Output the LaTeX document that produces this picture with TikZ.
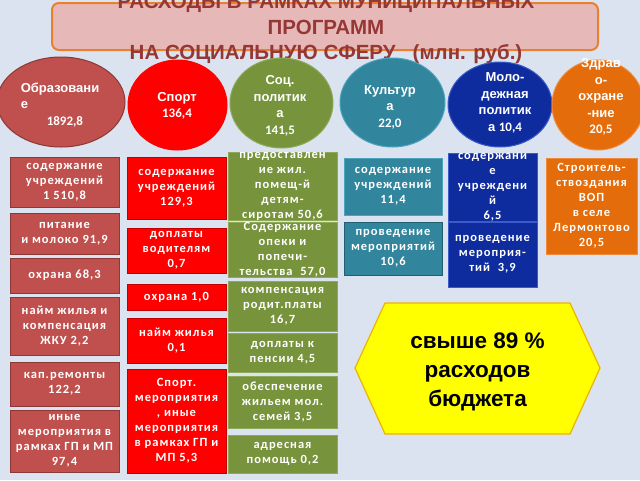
\documentclass[tikz,border=0pt]{standalone}
\usepackage{fontspec}
\setmainfont{Liberation Sans}
\newfontfamily\cfont{Carlito}
\newfontfamily\bxfont[LetterSpace=8]{Carlito}
\usetikzlibrary{shapes.geometric}
\definecolor{bg}{HTML}{DAE3EF}
\definecolor{tfill}{HTML}{E6B9B8}
\definecolor{tbord}{HTML}{E9802E}
\definecolor{ttext}{HTML}{953735}
\definecolor{edu}{HTML}{C0504D}
\definecolor{eduD}{HTML}{8C3836}
\definecolor{spo}{HTML}{FF0000}
\definecolor{spoD}{HTML}{C00000}
\definecolor{soc}{HTML}{77933C}
\definecolor{socD}{HTML}{8EAA58}
\definecolor{kul}{HTML}{31859C}
\definecolor{kulD}{HTML}{4BA3BD}
\definecolor{kulK}{HTML}{215F6F}
\definecolor{mol}{HTML}{0E2C9E}
\definecolor{molD}{HTML}{3A5CC8}
\definecolor{zdr}{HTML}{E46C0A}
\definecolor{zdrD}{HTML}{F08A3A}
\definecolor{hexF}{HTML}{FFFF00}
\definecolor{hexD}{HTML}{EBB400}
\begin{document}
\begin{tikzpicture}[x=1pt,y=-1pt,
  ell/.style={ellipse, inner sep=0pt, line width=1pt},
  elab/.style={text=white, align=center, inner sep=0pt, font=\bfseries\fontsize{13}{16.5}\selectfont},
  bx/.style={draw, line width=1pt, rectangle, inner sep=0pt, text=white, align=center, font=\bxfont\bfseries\fontsize{12.5}{15}\selectfont},
  ebox/.style={bx, fill=edu, draw=eduD, minimum width=109},
  sbox/.style={bx, fill=spo, draw=spoD, minimum width=99},
  cbox/.style={bx, fill=soc, draw=socD, minimum width=109},
  kbox/.style={bx, fill=kul, draw=kulD, minimum width=98},
  mbox/.style={bx, fill=mol, draw=molD, minimum width=89},
  zbox/.style={bx, fill=zdr, draw=zdrD, minimum width=91},
  ttl/.style={text=ttext, anchor=base, inner sep=0pt, font=\bfseries\fontsize{20.5}{24}\selectfont}
]
\useasboundingbox (0,0) rectangle (640,480);
\clip (0,0) rectangle (640,480);
\fill[bg] (0,0) rectangle (640,480);

% title
\node[draw=tbord, fill=tfill, rounded corners=7pt, line width=2pt, minimum width=546, minimum height=47, inner sep=0pt] (T) at (325,26.5) {};
\node[ttl] (t1) at (326,8) {РАСХОДЫ В РАМКАХ МУНИЦИПАЛЬНЫХ};
\node[ttl] (t2) at (326,34) {ПРОГРАММ};
\node[ttl] (t3) at (326,59) {НА СОЦИАЛЬНУЮ СФЕРУ \ \ (млн. руб.)};

% ellipses
\node[ell, fill=edu, draw=eduD, minimum width=128, minimum height=90] (E) at (61,102) {};
\node[elab, align=left] (El) at (60,105) {Образовани\\е\\\hspace*{26pt}{\cfont 1892,8}};
\node[ell, fill=spo, draw=spo, minimum width=99, minimum height=90] (S) at (177.5,105) {};
\node[elab] (Sl) at (177,106) {Спорт\\{\cfont 136,4}};
\node[ell, fill=soc, draw=socD, minimum width=103, minimum height=90] (C) at (281.5,103) {};
\node[elab] (Cl) at (280,106) {Соц.\\политик\\а\\{\cfont 141,5}};
\node[ell, fill=kul, draw=kulD, minimum width=105, minimum height=89] (K) at (392.5,102.5) {};
\node[elab] (Kl) at (390,107) {Культур\\а\\{\cfont 22,0}};
\node[ell, fill=mol, draw=molD, minimum width=104, minimum height=85] (M) at (500,104.5) {};
\node[elab] (Ml) at (505,103) {Моло-\\дежная\\политик\\а {\cfont 10,4}};
\node[ell, fill=zdr, draw=zdrD, minimum width=92, minimum height=90] (Z) at (598,105) {};
\node[elab] (Zl) at (601,97) {Здрав\\о-\\охране\\-ние\\{\cfont 20,5}};

% column 1
\node[ebox, minimum height=50] (e1) at (64.5,182) {содержание\\учреждений\\1 510,8};
\node[ebox, minimum height=41] (e2) at (64.5,233.5) {питание\\и молоко 91,9};
\node[ebox, minimum height=35] (e3) at (64.5,275.5) {охрана 68,3};
\node[ebox, minimum height=58] (e4) at (64.5,326) {найм жилья и\\компенсация\\ЖКУ 2,2};
\node[ebox, minimum height=44] (e5) at (64.5,384) {кап.ремонты\\122,2};
\node[ebox, minimum height=62] (e6) at (64.5,441) {иные\\мероприятия в\\рамках ГП и МП\\97,4};

% column 2
\node[sbox, minimum height=62] (s1) at (176.5,188) {содержание\\учреждений\\129,3};
\node[sbox, minimum height=45] (s2) at (176.5,250.5) {доплаты\\водителям\\0,7};
\node[sbox, minimum height=26] (s3) at (176.5,297) {охрана 1,0};
\node[sbox, minimum height=45] (s4) at (176.5,340.5) {найм жилья\\0,1};
\node[sbox, minimum height=104] (s5) at (176.5,421) {Спорт.\\мероприятия\\, иные\\мероприятия\\в рамках ГП и\\МП 5,3};

% column 3
\node[cbox, minimum height=59] (c1) at (282.5,186.5) {предоставлен\\ие жил.\\помещ-й\\детям-\\сиротам 50,6};
\node[cbox, minimum height=55] (c2) at (282.5,249.5) {Содержание\\опеки и\\попечи-\\тельства \ 57,0};
\node[cbox, minimum height=50] (c3) at (282.5,306) {компенсация\\родит.платы\\16,7};
\node[cbox, minimum height=39] (c4) at (282.5,352.5) {доплаты к\\пенсии 4,5};
\node[cbox, minimum height=52] (c5) at (282.5,402) {обеспечение\\жильем мол.\\семей 3,5};
\node[cbox, minimum height=38] (c6) at (282.5,454) {адресная\\помощь 0,2};

% column 4
\node[kbox, minimum height=57] (k1) at (393,186.5) {содержание\\учреждений\\11,4};
\node[kbox, draw=kulK, minimum height=53] (k2) at (393,248.5) {проведение\\мероприятий\\10,6};

% column 5
\node[mbox, minimum height=59] (m1) at (492.5,187.5) {содержани\\е\\учреждени\\й\\6,5};
\node[mbox, minimum height=65] (m2) at (492.5,254.5) {проведение\\мероприя-\\тий \ 3,9};

% column 6
\node[zbox, minimum height=96] (z1) at (591.5,206) {Строитель-\\ствоздания\\ВОП\\в селе\\Лермонтово\\20,5};

% hexagon
\draw[fill=hexF, draw=hexD, line width=1.2pt] (355,368) -- (385,303) -- (570,303) -- (600,368) -- (570,434) -- (385,434) -- cycle;
\node[align=center, inner sep=0pt, font=\bfseries\fontsize{22.5}{29}\selectfont] (H) at (477.5,372) {свыше 89 \%\\расходов\\бюджета};
\end{tikzpicture}
\end{document}
